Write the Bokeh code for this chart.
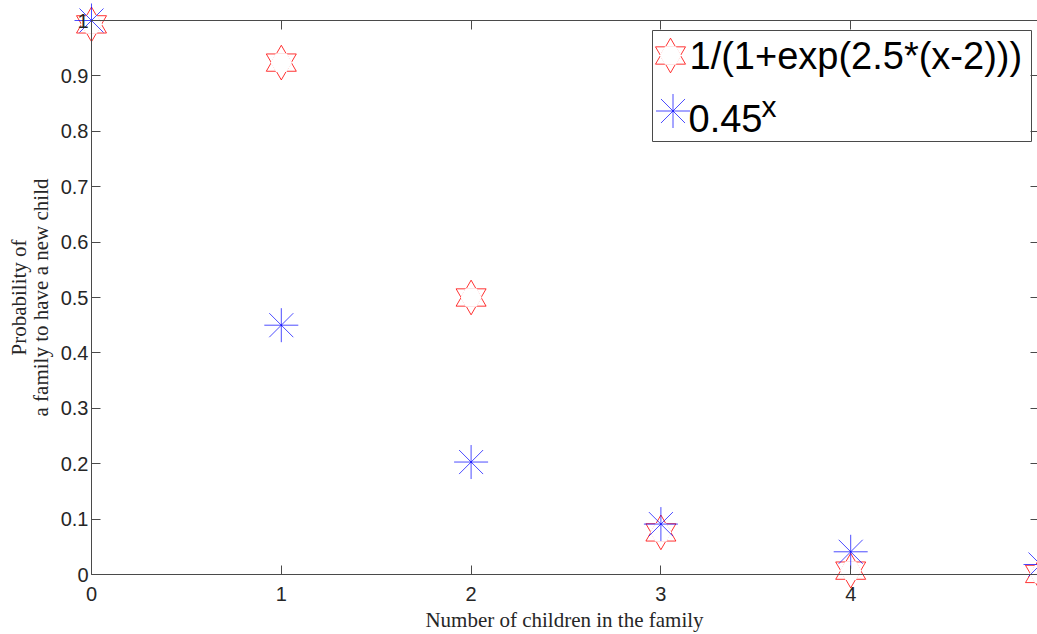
from bokeh.plotting import figure
from bokeh.models import Range1d, FixedTicker, LinearAxis, BoxAnnotation, Label
from bokeh.embed import file_html
from bokeh.resources import INLINE

# ---------------- data ----------------
x_vals = [0, 1, 2, 3, 4, 5]
logistic_vals = [0.993, 0.924, 0.500, 0.076, 0.007, 0.001]
power_vals = [1.000, 0.450, 0.203, 0.091, 0.041, 0.018]

x_ticks = [0, 1, 2, 3, 4, 5]
x_tick_labels = ["0", "1", "2", "3", "4", "5"]
y_ticks = [0, 0.1, 0.2, 0.3, 0.4, 0.5, 0.6, 0.7, 0.8, 0.9, 1]
y_tick_labels = ["0", "0.1", "0.2", "0.3", "0.4", "0.5", "0.6", "0.7", "0.8", "0.9", "1"]

legend_labels = ["1/(1+exp(2.5*(x-2)))", "0.45"]
legend_superscript = "x"
x_label = "Number of children in the family"
y_label = "Probability of\na family to have a new child"

# ---------------- layout (canvas pixels) ----------------
W, H = 1037, 634
AX_L, AX_T, AX_B = 91, 20, 574          # pixel positions of x=0, y=1, y=0
PX_PER_X = 189.8
PX_PER_Y = AX_B - AX_T
X_MIN, X_MAX = x_ticks[0], x_ticks[-1]
Y_MIN, Y_MAX = y_ticks[0], y_ticks[-1]

def xd(px):
    return (px - AX_L) / PX_PER_X

def yd(py):
    return (AX_B - py) / PX_PER_Y

AX_COLOR = "#4a4a4a"
TXT_COLOR = "#262626"
RED = "#ff0000"
BLUE = "#0000ff"
RED_ALPHA = 0.8
BLUE_ALPHA = 0.7
TRI_SIZE = 30
HEX_SIZE = 20
AST_SIZE = 34

p = figure(width=W, height=H, output_backend="svg", toolbar_location=None,
           x_range=Range1d(xd(0), xd(W)), y_range=Range1d(yd(H), yd(0)),
           min_border=0, min_border_left=0, min_border_right=0,
           min_border_top=0, min_border_bottom=0)
p.outline_line_color = None
p.background_fill_color = "white"
p.border_fill_color = "white"
p.grid.visible = False

xt = FixedTicker(ticks=x_ticks)
yt = FixedTicker(ticks=y_ticks)
x_over = {t: s for t, s in zip(x_ticks, x_tick_labels)}
y_over = {t: s for t, s in zip(y_ticks, y_tick_labels)}

def style_axis(ax, ticker, overrides, tick_in, loc, bounds, show_labels=True, show_line=True):
    ax.ticker = ticker
    ax.fixed_location = loc
    ax.bounds = bounds
    ax.major_tick_in = tick_in
    ax.major_tick_out = 0
    ax.minor_tick_in = 0
    ax.minor_tick_out = 0
    ax.minor_tick_line_color = None
    ax.major_tick_line_color = AX_COLOR
    ax.major_tick_line_width = 1
    ax.axis_line_color = AX_COLOR if show_line else None
    ax.axis_line_width = 1
    if show_labels:
        ax.major_label_overrides = overrides
        ax.major_label_text_font = "Liberation Sans"
        ax.major_label_text_font_size = "20px"
        ax.major_label_text_color = TXT_COLOR
    else:
        ax.major_label_overrides = {t: "" for t in overrides}
        ax.major_label_text_color = None
        ax.major_label_standoff = 0

xa = p.xaxis[0]
ya = p.yaxis[0]
style_axis(xa, xt, x_over, 9, Y_MIN, (X_MIN, X_MAX))
style_axis(ya, yt, y_over, 9, X_MIN, (Y_MIN, Y_MAX))
xa.major_label_standoff = 12
ya.major_label_standoff = 3

for ax, lab in ((xa, x_label), (ya, y_label)):
    ax.axis_label = lab
    ax.axis_label_text_font = "Liberation Serif"
    ax.axis_label_text_font_size = "21px"
    ax.axis_label_text_font_style = "normal"
    ax.axis_label_text_color = TXT_COLOR
xa.axis_label_standoff = 4
ya.axis_label_text_line_height = 0.9
ya.axis_label_standoff = 5

top = LinearAxis()
style_axis(top, xt, x_over, 9, Y_MAX, (X_MIN, X_MAX), show_labels=False)
p.add_layout(top, "above")
right = LinearAxis()
style_axis(right, yt, y_over, 10, X_MAX, (Y_MIN, Y_MAX), show_labels=False)
p.add_layout(right, "right")

# ---------------- legend box (drawn under the marks) ----------------
box = BoxAnnotation(left=xd(652), right=xd(1031), top=yd(30), bottom=yd(141),
                    fill_color="white", fill_alpha=1.0,
                    line_color=AX_COLOR, line_width=1, line_alpha=1.0,
                    level="underlay")
p.add_layout(box)

# ---------------- data marks ----------------
p.scatter(x_vals, logistic_vals, marker="triangle", size=TRI_SIZE,
          fill_color=None, line_color=RED, line_width=1, line_alpha=RED_ALPHA)
p.scatter(x_vals, logistic_vals, marker="inverted_triangle", size=TRI_SIZE,
          fill_color=None, line_color=RED, line_width=1, line_alpha=RED_ALPHA)
p.scatter(x_vals, logistic_vals, marker="hex", size=HEX_SIZE,
          fill_color="white", line_color="white", line_width=1.3)
p.scatter(x_vals, power_vals, marker="asterisk", size=AST_SIZE,
          line_color=BLUE, line_width=1, line_alpha=BLUE_ALPHA)

# ---------------- legend keys and texts ----------------
lx1, ly1 = [xd(670)], [yd(55)]
lx2, ly2 = [xd(672.5)], [yd(110.5)]
p.scatter(lx1, ly1, marker="triangle", size=TRI_SIZE, fill_color=None,
          line_color=RED, line_width=1, line_alpha=RED_ALPHA)
p.scatter(lx1, ly1, marker="inverted_triangle", size=TRI_SIZE, fill_color=None,
          line_color=RED, line_width=1, line_alpha=RED_ALPHA)
p.scatter(lx1, ly1, marker="hex", size=HEX_SIZE, fill_color="white",
          line_color="white", line_width=1.3)
p.scatter(lx2, ly2, marker="asterisk", size=AST_SIZE, line_color=BLUE,
          line_width=1, line_alpha=BLUE_ALPHA)

p.add_layout(Label(x=xd(689), y=yd(55), text=legend_labels[0],
                   text_font="Liberation Sans", text_font_size="38px",
                   text_color="black", text_baseline="middle"))
p.add_layout(Label(x=xd(688), y=yd(118), text=legend_labels[1],
                   text_font="Liberation Sans", text_font_size="38px",
                   text_color="black", text_baseline="middle"))
p.add_layout(Label(x=xd(761), y=yd(106), text=legend_superscript,
                   text_font="Liberation Sans", text_font_size="30px",
                   text_color="black", text_baseline="middle"))

open("out.html", "w").write(file_html(p, INLINE))
